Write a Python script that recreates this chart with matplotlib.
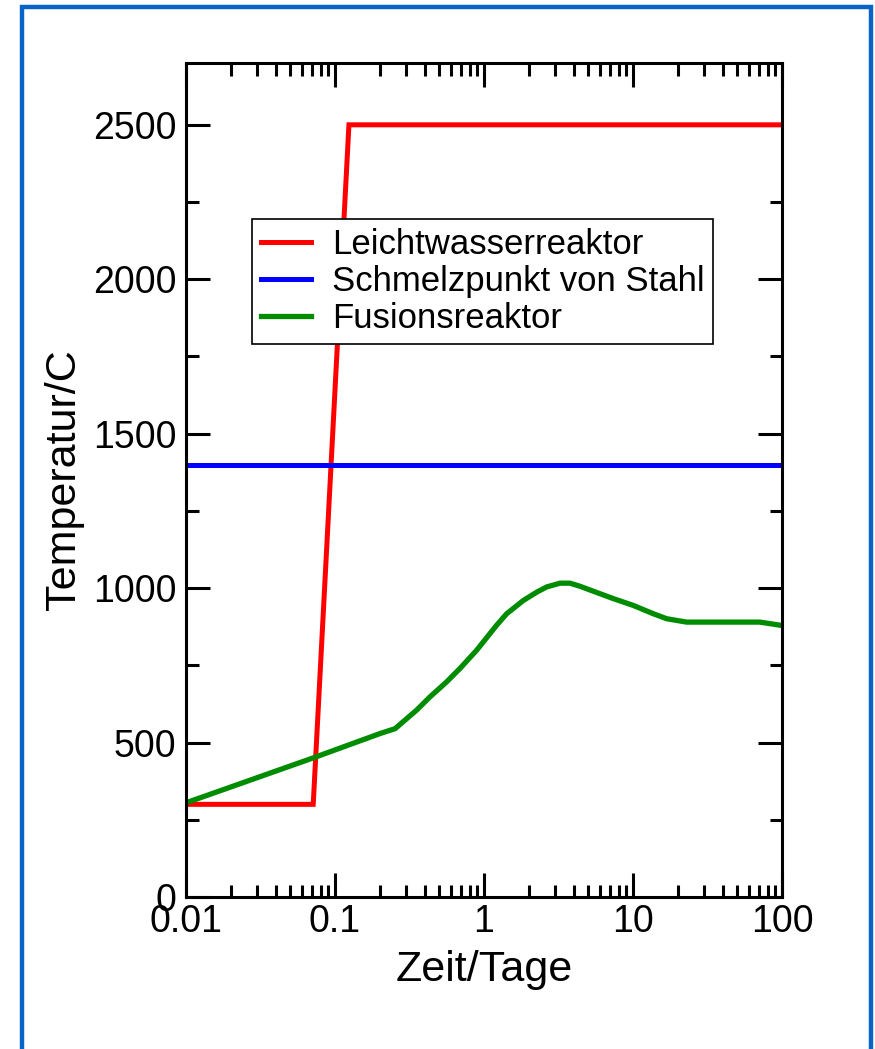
import matplotlib
matplotlib.use("Agg")
import matplotlib.pyplot as plt
from matplotlib.patches import Rectangle
from matplotlib.ticker import LogLocator, MultipleLocator, FixedFormatter, FixedLocator

plt.rcParams['font.family'] = ['Liberation Sans', 'DejaVu Sans']

# Light-water reactor: flat at operating temperature, then sharp rise to meltdown level
lwr_time = [0.01, 0.0714, 0.124, 100]
lwr_temp = [300, 300, 2500, 2500]

# Melting point of steel
steel_time = [0.01, 100]
steel_temp = [1400, 1400]

# Fusion reactor: slow heating, peak near 3.5 days, then settling
fus_time = [0.01, 0.071, 0.200, 0.253, 0.353, 0.434, 0.56, 0.69, 0.893, 1.097,
            1.216, 1.419, 1.836, 2.26, 2.64, 3.24, 3.78, 4.41, 6.0, 7.38,
            10.05, 13.7, 16.8, 22.9, 71, 97, 100]
fus_temp = [305, 450, 529, 545, 605, 648, 696, 740, 799, 853,
            880, 917, 960, 987, 1004, 1016, 1016, 1006, 982, 966,
            944, 917, 901, 890, 890, 880, 878]

xticks = [0.01, 0.1, 1, 10, 100]
xtick_labels = ["0.01", "0.1", "1", "10", "100"]

fig = plt.figure(figsize=(8.75, 10.49), dpi=100)
ax = fig.add_axes([0.2126, 0.1449, 0.6811, 0.7950])

ax.plot(lwr_time, lwr_temp, color="#ff0000", lw=3.6, label="Leichtwasserreaktor",
        solid_joinstyle="miter")
ax.plot(steel_time, steel_temp, color="#0000ff", lw=3.6, label="Schmelzpunkt von Stahl")
ax.plot(fus_time, fus_temp, color="#008c00", lw=3.8, label="Fusionsreaktor",
        solid_joinstyle="round")

ax.set_xscale("log")
ax.set_xlim(0.01, 100)
ax.set_ylim(0, 2700)

ax.xaxis.set_major_locator(FixedLocator(xticks))
ax.xaxis.set_major_formatter(FixedFormatter(xtick_labels))
ax.xaxis.set_minor_locator(LogLocator(base=10, subs=range(2, 10)))
ax.xaxis.set_minor_formatter(FixedFormatter([]))
ax.yaxis.set_major_locator(MultipleLocator(500))
ax.yaxis.set_minor_locator(MultipleLocator(250))

ax.tick_params(which="both", direction="in", top=True, right=True, width=2.2,
               labelsize=27)
ax.tick_params(axis="y", pad=7)
ax.tick_params(axis="x", pad=5)
ax.tick_params(which="major", length=17)
ax.tick_params(which="minor", length=9)
for s in ax.spines.values():
    s.set_linewidth(2.2)

ax.set_xlabel("Zeit/Tage", fontsize=31, labelpad=7)
ax.set_ylabel("Temperatur/C", fontsize=31, labelpad=6)

leg = ax.legend(loc="upper left", bbox_to_anchor=(0.111, 0.813), borderaxespad=0,
                fontsize=25, frameon=True, fancybox=False, edgecolor="black",
                framealpha=1, handlelength=1.45, handletextpad=0.6, borderpad=0.25,
                labelspacing=0.12)
leg.get_frame().set_linewidth(1.2)

# Blue page frame around the chart
fig.patches.append(Rectangle((22 / 875, -0.02), (871 - 22) / 875, 1 - 7 / 1049 + 0.02,
                             transform=fig.transFigure, fill=False,
                             edgecolor="#0a64c8", linewidth=3.2))

fig.savefig("out.png", dpi=100)
